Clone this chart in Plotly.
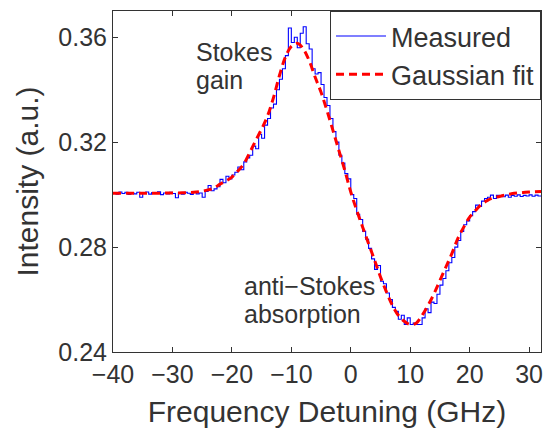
import plotly.graph_objects as go

# Gaussian fit, read at 1 GHz steps
fit_x = list(range(-40, 33))
fit_y = [0.3005, 0.3005, 0.3005, 0.3005, 0.3005, 0.3005, 0.3005, 0.3005, 0.3005, 0.3006,
         0.3006, 0.3006, 0.3007, 0.3008, 0.3010, 0.3013, 0.3018, 0.3025, 0.3040, 0.3052,
         0.3067, 0.3090, 0.3117, 0.3160, 0.3206, 0.3250, 0.3300, 0.3370, 0.3454, 0.3524,
         0.3565, 0.3577, 0.3556, 0.3511, 0.3448, 0.3390, 0.3320, 0.3245, 0.3168, 0.3092,
         0.3010, 0.2940, 0.2876, 0.2813, 0.2750, 0.2686, 0.2629, 0.2578, 0.2540, 0.2517,
         0.2505, 0.2510, 0.2540, 0.2578, 0.2622, 0.2673, 0.2724, 0.2775, 0.2832, 0.2876,
         0.2914, 0.2940, 0.2963, 0.2978, 0.2988, 0.2993, 0.2999, 0.3003, 0.3006, 0.3008,
         0.3010, 0.3011, 0.3012]

# Measured data, read at 0.5 GHz steps
meas_x = [-40 + 0.5 * i for i in range(145)]
meas_y = [0.3008, 0.3002, 0.3010, 0.3004, 0.3009, 0.3001, 0.3007, 0.3003, 0.3009, 0.2990,
          0.3005, 0.3010, 0.3002, 0.3008, 0.3004, 0.3011, 0.3000, 0.3006, 0.3003, 0.3009,
          0.3004, 0.2988, 0.3007, 0.3002, 0.3009, 0.3005, 0.3001, 0.3008, 0.3003, 0.3006,
          0.2990, 0.3012, 0.3035, 0.3015, 0.3022, 0.3030, 0.3058, 0.3045, 0.3070, 0.3060,
          0.3075, 0.3085, 0.3105, 0.3095, 0.3125, 0.3140, 0.3150, 0.3185, 0.3175, 0.3230,
          0.3215, 0.3265, 0.3290, 0.3330, 0.3345, 0.3400, 0.3440, 0.3480, 0.3530, 0.3635,
          0.3580, 0.3600, 0.3560, 0.3615, 0.3640, 0.3575, 0.3555, 0.3480, 0.3460, 0.3465,
          0.3420, 0.3370, 0.3340, 0.3290, 0.3240, 0.3200, 0.3150, 0.3120, 0.3080, 0.3060,
          0.3000, 0.2985, 0.2925, 0.2905, 0.2860, 0.2830, 0.2795, 0.2755, 0.2715, 0.2730,
          0.2670, 0.2660, 0.2625, 0.2600, 0.2570, 0.2555, 0.2525, 0.2540, 0.2505, 0.2530,
          0.2505, 0.2510, 0.2505, 0.2505, 0.2530, 0.2565, 0.2550, 0.2590, 0.2585, 0.2620,
          0.2655, 0.2680, 0.2710, 0.2740, 0.2760, 0.2800, 0.2825, 0.2860, 0.2885, 0.2900,
          0.2920, 0.2935, 0.2960, 0.2955, 0.2975, 0.2985, 0.2990, 0.2998, 0.2985, 0.2997,
          0.2995, 0.2992, 0.2998, 0.2990, 0.2997, 0.2994, 0.2999, 0.2993, 0.2997, 0.2995,
          0.2999, 0.2994, 0.2998, 0.2995, 0.2997]

x_ticks = [-40, -30, -20, -10, 0, 10, 20, 30]
y_ticks = [0.24, 0.28, 0.32, 0.36]

FONT = "Liberation Sans, Arial, Helvetica, sans-serif"
TXT = "#333333"

fig = go.Figure()
fig.add_trace(go.Scatter(x=meas_x, y=meas_y, mode="lines", name="Measured",
                         line=dict(color="#0000ff", width=1.1, shape="hv")))
fig.add_trace(go.Scatter(x=fit_x, y=fit_y, mode="lines", name="Gaussian fit",
                         line=dict(color="#ff0000", width=3, dash="8px,5px", shape="spline")))

ann_font = dict(family=FONT, size=25, color=TXT)
fig.add_annotation(x=-26.3, y=0.3545, text="Stokes", showarrow=False,
                   xanchor="left", yanchor="middle", font=ann_font)
fig.add_annotation(x=-26.3, y=0.3437, text="gain", showarrow=False,
                   xanchor="left", yanchor="middle", font=ann_font)
fig.add_annotation(x=-18.3, y=0.2651, text="anti\u2212Stokes", showarrow=False,
                   xanchor="left", yanchor="middle", font=ann_font)
fig.add_annotation(x=-18.3, y=0.2545, text="absorption", showarrow=False,
                   xanchor="left", yanchor="middle", font=ann_font)

axis_common = dict(showgrid=False, zeroline=False, showline=True, linecolor=TXT, linewidth=1,
                   mirror="allticks", ticks="inside", ticklen=5, tickcolor=TXT,
                   tickfont=dict(family=FONT, size=25, color=TXT))

fig.update_layout(
    width=547, height=433,
    margin=dict(l=113, r=4, t=11, b=81),
    paper_bgcolor="white", plot_bgcolor="white",
    font=dict(family=FONT, color=TXT),
    showlegend=True,
    legend=dict(x=1, y=1, xanchor="right", yanchor="top",
                bgcolor="white", bordercolor=TXT, borderwidth=1,
                font=dict(family=FONT, size=27, color=TXT),
                tracegroupgap=0, itemwidth=50),
    xaxis=dict(range=[-40, 32], tickvals=x_ticks,
               title=dict(text="Frequency Detuning (GHz)", font=dict(family=FONT, size=30, color=TXT), standoff=13),
               **axis_common),
    yaxis=dict(range=[0.24, 0.37], tickvals=y_ticks, tickformat=".2f",
               title=dict(text="Intensity (a.u.)", font=dict(family=FONT, size=30, color=TXT), standoff=10),
               **axis_common),
)

fig.write_html("out.html")
